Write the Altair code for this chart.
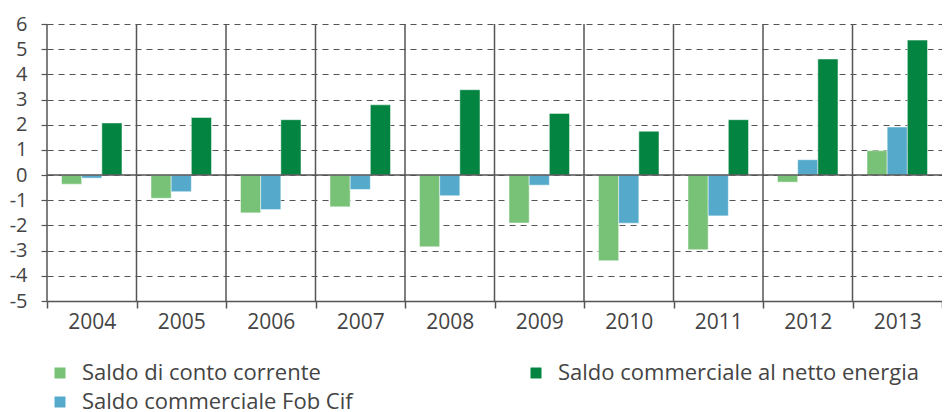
import altair as alt
import pandas as pd

years = ["2004", "2005", "2006", "2007", "2008", "2009", "2010", "2011", "2012", "2013"]
conto = [-0.36, -0.92, -1.50, -1.26, -2.85, -1.90, -3.40, -2.96, -0.28, 0.97]
fob = [-0.12, -0.66, -1.37, -0.57, -0.82, -0.40, -1.91, -1.62, 0.61, 1.91]
netto = [2.07, 2.29, 2.20, 2.79, 3.39, 2.45, 1.74, 2.20, 4.61, 5.36]
y_ticks = [-5, -4, -3, -2, -1, 0, 1, 2, 3, 4, 5, 6]

series = ["Saldo di conto corrente", "Saldo commerciale Fob Cif", "Saldo commerciale al netto energia"]
series_colors = ["#77C277", "#55AACC", "#038541"]
legend_order = [series[0], series[2], series[1]]
legend_colors = [series_colors[0], series_colors[2], series_colors[1]]

rows = []
for i, yr in enumerate(years):
    for s, vals in zip(series, [conto, fob, netto]):
        rows.append({"anno": yr, "serie": s, "valore": vals[i]})
df = pd.DataFrame(rows)

FONT = "Open Sans"
GRAY = "#555555"
LABEL = "#444444"

def xenc(**kw):
    return alt.X(
        "anno:N", sort=years, title=None,
        scale=alt.Scale(paddingInner=0, paddingOuter=0),
        axis=alt.Axis(labelAngle=0, labelFontSize=21, labelColor=LABEL, labelFont=FONT,
                      tickBand="extent", ticks=True, tickSize=7, tickColor=GRAY, tickWidth=1.5,
                      domainColor=GRAY, domainWidth=1.5, grid=False, labelPadding=3),
        **kw)

yenc = alt.Y(
    "valore:Q", title=None,
    scale=alt.Scale(domain=[-5, 6], nice=False, zero=False),
    axis=alt.Axis(values=y_ticks, tickCount=len(y_ticks), labelFontSize=20, labelColor=LABEL,
                  labelFont=FONT, labelOverlap=False, labelExpr="'' + datum.value",
                  grid=True, gridDash=[6, 5], gridColor=GRAY, gridWidth=1.2,
                  tickSize=6, tickColor=GRAY, tickWidth=1.2, domain=False, labelPadding=14))

bars = alt.Chart(df).mark_bar(stroke="white", strokeWidth=0.8, strokeOpacity=0.6).encode(
    x=xenc(),
    xOffset=alt.XOffset("serie:N", sort=series, scale=alt.Scale(paddingOuter=0.72, paddingInner=0)),
    y=yenc,
    color=alt.Color("serie:N",
                    scale=alt.Scale(domain=legend_order, range=legend_colors),
                    legend=alt.Legend(orient="none", legendX=2, legendY=338, columns=2,
                                      direction="horizontal",
                                      title=None, symbolType="square", symbolSize=121,
                                      symbolStrokeWidth=0, labelFontSize=22, labelFont=FONT,
                                      labelColor=LABEL, labelOffset=11, columnPadding=172,
                                      rowPadding=7, padding=0, labelLimit=0)),
)

vlines = alt.Chart(pd.DataFrame({"anno": years})).mark_rule(color=GRAY, strokeWidth=1.5).encode(
    x=xenc(bandPosition=0),
    y=alt.datum(6),
    y2=alt.datum(-5),
)

zero = alt.Chart(pd.DataFrame({"z": [0]})).mark_rule(color=GRAY, strokeWidth=1.5).encode(
    y=alt.datum(0),
)

chart = alt.layer(vlines, bars, zero).properties(
    width=895, height=277,
    autosize=alt.AutoSizeParams(type="none"),
    padding={"left": 39, "top": 16, "right": 0, "bottom": 110},
).configure_view(stroke=None)

chart.save("out.html", embed_options={"renderer": "svg", "actions": False})
